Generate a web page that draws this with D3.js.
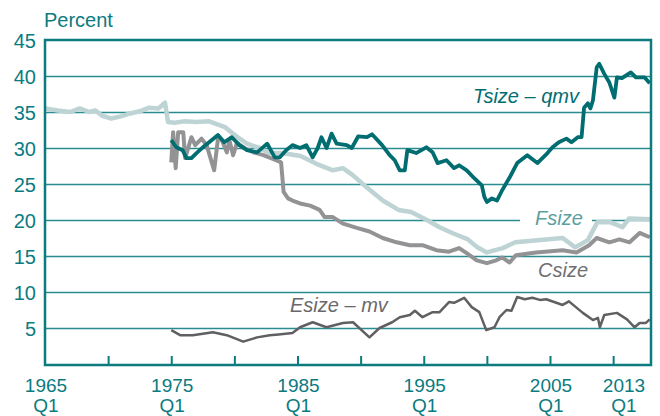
<!DOCTYPE html>
<html>
<head>
<meta charset="utf-8">
<script src="https://cdn.jsdelivr.net/npm/d3@7/dist/d3.min.js"></script>
<style>
	body { margin: 0; background: #fff; }
	svg { display: block; font-family: "Liberation Sans", Arial, sans-serif; }
</style>
</head>
<body>
<script>
(function () {
	"use strict";

	var w = 660;
	var h = 416;

	// Data: [decimal year, percent]
	var fsize = [[1965.0,35.5],[1966.0,35.2],[1967.0,35.0],[1967.75,35.5],[1968.5,35.0],[1969.0,35.2],[1969.5,34.5],
		[1970.25,34.1],[1971.0,34.4],[1971.75,34.8],[1972.5,35.1],[1973.25,35.6],[1974.0,35.5],[1974.5,36.3],
		[1974.75,33.6],[1975.25,33.5],[1976.0,33.7],[1977.0,33.6],[1978.0,33.7],[1979.25,32.9],[1980.25,31.5],
		[1981.0,30.6],[1982.0,30.0],[1982.75,29.3],[1983.75,29.3],[1985.25,28.9],[1986.5,27.8],[1987.8,26.9],
		[1988.6,27.2],[1989.4,26.2],[1990.5,24.5],[1991.75,22.7],[1993.0,21.4],[1994.0,21.1],[1995.25,20.0],
		[1996.25,19.0],[1997.25,18.2],[1998.5,17.3],[1999.25,16.2],[2000.0,15.5],[2001.25,16.1],[2002.25,16.9],
		[2004.0,17.2],[2006.0,17.5],[2007.0,16.2],[2008.0,17.2],[2008.75,19.7],[2009.75,19.7],[2010.75,19.0],
		[2011.25,20.2],[2013.0,20.1]];

	var csize = [[1975.0,28.0],[1975.15,32.2],[1975.35,27.2],[1975.55,32.2],[1975.95,32.2],[1976.1,28.6],
		[1976.6,31.5],[1976.9,30.4],[1977.4,31.3],[1977.8,30.4],[1978.4,26.9],[1978.7,31.3],[1979.0,31.1],
		[1979.4,29.4],[1979.6,31.1],[1979.9,29.0],[1980.2,30.7],[1980.8,30.0],[1981.5,29.4],[1982.3,29.0],
		[1983.3,28.3],[1983.7,28.0],[1983.9,23.9],[1984.25,23.0],[1984.6,22.7],[1985.2,22.3],[1986.0,22.0],
		[1986.75,21.4],[1987.15,20.4],[1987.8,20.4],[1988.6,19.5],[1989.7,18.9],[1990.7,18.4],[1991.75,17.5],
		[1992.85,16.9],[1993.9,16.5],[1994.9,16.5],[1996.0,15.8],[1997.0,15.6],[1997.8,16.1],[1998.4,15.4],
		[1999.2,14.4],[2000.0,14.0],[2000.75,14.4],[2001.2,14.8],[2001.8,14.1],[2002.3,15.1],[2003.9,15.5],
		[2006.0,15.8],[2007.1,15.5],[2008.1,16.5],[2008.7,17.5],[2009.7,16.9],[2010.5,17.3],[2011.3,16.9],
		[2012.1,18.2],[2012.9,17.6]];

	var tsize = [[1975.0,31.1],[1975.4,30.1],[1975.9,29.7],[1976.2,28.6],[1976.6,28.6],[1977.0,29.3],[1977.5,30.1],
		[1978.0,30.8],[1978.7,31.8],[1979.2,30.8],[1979.8,31.5],[1980.4,30.4],[1981.0,29.7],[1981.8,29.4],
		[1982.6,30.6],[1983.2,28.7],[1983.6,28.7],[1984.1,29.7],[1984.6,30.4],[1985.2,30.0],[1985.7,30.4],
		[1986.2,28.7],[1986.6,30.0],[1986.9,31.5],[1987.3,30.0],[1987.7,32.0],[1988.1,30.6],[1988.9,30.4],
		[1989.3,30.0],[1989.8,31.6],[1990.5,31.5],[1990.9,31.9],[1991.7,30.4],[1992.3,29.0],[1992.7,28.3],
		[1993.1,26.9],[1993.5,26.9],[1993.7,29.7],[1994.4,29.3],[1995.2,30.1],[1995.7,29.4],[1996.1,27.9],
		[1996.8,28.3],[1997.4,27.2],[1997.8,27.6],[1998.4,26.9],[1999.0,25.8],[1999.6,24.8],[1999.8,23.2],
		[2000.0,22.5],[2000.4,23.0],[2000.8,22.7],[2001.2,24.1],[2001.8,25.9],[2002.4,27.9],[2003.2,29.0],
		[2004.0,27.9],[2004.8,29.3],[2005.2,30.1],[2005.7,30.8],[2006.3,31.3],[2006.7,30.8],[2007.2,31.5],
		[2007.5,31.5],[2007.7,35.6],[2008.0,36.2],[2008.2,35.5],[2008.4,36.6],[2008.7,41.2],[2008.9,41.7],
		[2009.3,40.3],[2009.7,39.1],[2010.1,37.0],[2010.3,39.8],[2010.7,39.7],[2011.4,40.5],[2011.8,39.8],
		[2012.5,39.8],[2012.9,39.0]];

	var esize = [[1975.0,4.7],[1975.7,4.0],[1976.7,4.0],[1978.3,4.4],[1979.4,4.0],[1980.7,3.1],[1981.8,3.7],
		[1982.8,4.0],[1983.5,4.1],[1984.6,4.3],[1985.2,5.1],[1986.2,5.8],[1987.3,5.1],[1988.6,5.7],[1989.4,5.8],
		[1990.7,3.7],[1991.5,5.0],[1992.5,5.8],[1993.1,6.5],[1993.9,6.8],[1994.3,7.4],[1994.9,6.5],[1995.7,7.2],
		[1996.25,7.2],[1997.0,8.6],[1997.4,8.5],[1998.2,9.2],[1998.8,7.9],[1999.4,7.2],[1999.95,4.7],[2000.6,5.1],
		[2001.0,6.5],[2001.55,7.5],[2001.95,7.4],[2002.4,9.3],[2003.0,9.0],[2003.6,9.2],[2004.2,8.9],[2004.7,9.0],
		[2005.5,8.5],[2006.0,8.2],[2006.5,8.7],[2007.6,7.1],[2008.4,6.1],[2008.8,6.4],[2008.95,5.1],[2009.3,6.8],
		[2010.3,7.1],[2011.1,6.2],[2011.7,5.1],[2012.1,5.7],[2012.6,5.7],[2012.9,6.2]];

	var yTicks = [5, 10, 15, 20, 25, 30, 35, 40, 45];
	var xTicks = [1970, 1975, 1980, 1985, 1990, 1995, 2000, 2005, 2010];
	var xLabels = [1965, 1975, 1985, 1995, 2005, 2013];

	var teal = "#0b7b7f";

	var svg = d3.select("body")
		.append("svg")
		.attr("width", w)
		.attr("height", h);

	// Scales
	var xScale = d3.scaleLinear()
		.domain([1965, 2013])
		.range([45, 651]);

	var yScale = d3.scaleLinear()
		.domain([0, 45])
		.range([364, 40]);

	// Gridlines
	var grid = svg.append("g")
		.attr("transform", "translate(45, 0)")
		.call(d3.axisLeft(yScale).tickValues(yTicks.slice(0, -1)).tickSize(-606).tickFormat(""));
	grid.select(".domain").remove();
	grid.selectAll("line").attr("stroke", "#2a8c8f").attr("stroke-width", 1.4);

	// y tick labels
	var yAxis = svg.append("g")
		.attr("transform", "translate(36, 0)")
		.call(d3.axisLeft(yScale).tickValues(yTicks).tickSize(0).tickPadding(0));
	yAxis.select(".domain").remove();
	yAxis.selectAll("text")
		.attr("fill", teal)
		.attr("font-size", "20px")
		.attr("font-family", "Liberation Sans, Arial, sans-serif")
		.attr("dy", "0.36em");

	// bottom ticks, pointing inward
	var xAxis = svg.append("g")
		.attr("transform", "translate(0, 365)")
		.call(d3.axisBottom(xScale).tickValues(xTicks).tickSize(-9).tickFormat(""));
	xAxis.select(".domain").remove();
	xAxis.selectAll("line").attr("stroke", teal).attr("stroke-width", 2);

	// white patch behind the Fsize label
	svg.append("rect")
		.attr("x", 520).attr("y", 210)
		.attr("width", 72).attr("height", 20)
		.attr("fill", "#fff");

	// Lines
	var lineFun = d3.line()
		.x((d) => xScale(d[0]))
		.y((d) => yScale(d[1]));

	function drawLine(ds, color, width) {
		svg.append("path")
			.attr("d", lineFun(ds))
			.attr("fill", "none")
			.attr("stroke", color)
			.attr("stroke-width", width)
			.attr("stroke-linejoin", "round");
	}

	drawLine(fsize, "#bdd3d4", 4.5);
	drawLine(csize, "#939396", 4);
	drawLine(esize, "#606063", 2.5);
	drawLine(tsize, "#006d71", 3.8);

	// Frame
	svg.append("rect")
		.attr("x", 45).attr("y", 40)
		.attr("width", 606).attr("height", 325)
		.attr("fill", "none")
		.attr("stroke", teal)
		.attr("stroke-width", 2.5);

	// x labels: year over "Q1"
	var xl = svg.append("g").attr("fill", teal).attr("font-size", "19px");
	xLabels.forEach(function (yr, i) {
		var last = i === xLabels.length - 1;
		var cx = last ? xScale(yr) - 27 : xScale(yr) + 1;
		xl.append("text")
			.attr("x", cx).attr("y", 392)
			.attr("text-anchor", "middle")
			.text(yr);
		xl.append("text")
			.attr("x", cx).attr("y", 412)
			.attr("text-anchor", "middle")
			.text("Q1");
	});

	svg.append("text")
		.attr("x", 44).attr("y", 27)
		.attr("fill", teal)
		.attr("font-size", "20px")
		.text("Percent");

	// Series labels
	function label(txt, x, y, color) {
		svg.append("text")
			.attr("x", x).attr("y", y)
			.attr("fill", color)
			.attr("font-size", "20px")
			.attr("font-style", "italic")
			.text(txt);
	}
	label("Tsize \u2013 qmv", 473, 103, "#006d71");
	label("Fsize", 535, 225, "#5c9fa1");
	label("Csize", 538, 277, "#6f6f72");
	label("Esize \u2013 mv", 290, 312, "#69696c");
})();
</script>
</body>
</html>
